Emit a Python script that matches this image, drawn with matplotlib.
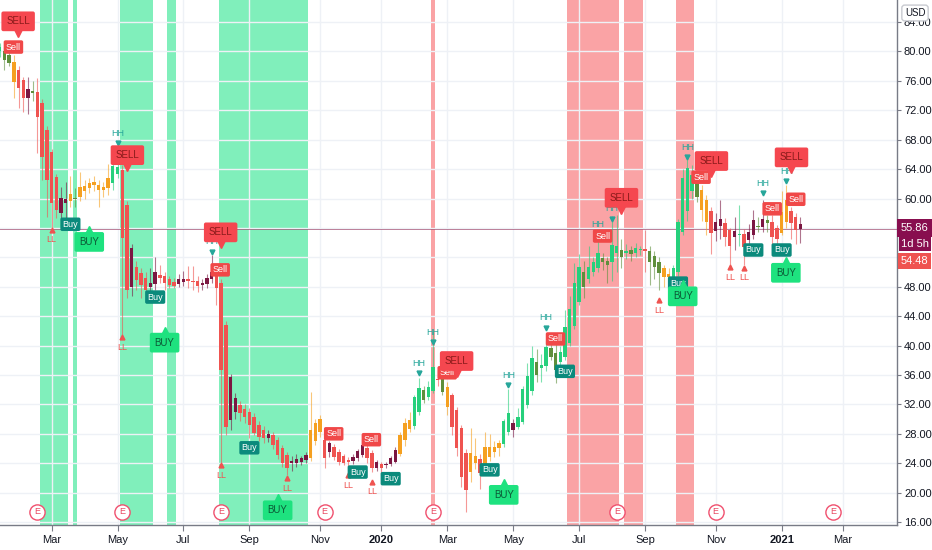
import numpy as np
import matplotlib
matplotlib.use('Agg')
import matplotlib.pyplot as plt
from matplotlib import transforms

# 3-day candles (price in USD)
opens = [80.0, 80.0, 79.5, 78.6, 77.5, 76.1, 73.7, 74.6, 74.5, 73.0,
         69.3, 66.3, 62.9, 58.0, 59.4, 59.6, 60.0, 60.2, 61.0, 61.5,
         62.2, 61.8, 61.2, 61.4, 62.1, 63.4, 63.9, 59.1, 48.0, 50.7,
         49.9, 49.2, 48.0, 48.4, 49.6, 49.5, 49.0, 48.6, 48.4, 48.6,
         48.9, 48.8, 48.8, 48.2, 48.4, 49.0, 49.9, 48.5, 42.8, 29.9,
         31.0, 31.9, 31.4, 31.0, 30.3, 29.2, 28.5, 27.4, 27.8, 27.2,
         26.1, 25.1, 24.0, 24.0, 24.2, 24.4, 24.7, 27.0, 28.2, 27.2,
         25.5, 26.2, 25.5, 25.0, 24.4, 24.3, 24.7, 25.1, 26.1, 25.4,
         23.3, 23.9, 23.7, 23.9, 24.2, 25.3, 27.2, 28.6, 29.0, 31.0,
         34.0, 33.0, 33.8, 35.4, 35.5, 34.4, 33.3, 31.2, 28.8, 25.4,
         22.8, 25.0, 24.6, 23.6, 24.9, 25.5, 26.1, 26.6, 28.2, 29.5,
         28.9, 29.6, 31.9, 33.8, 37.8, 37.0, 37.2, 39.7, 39.0, 37.8,
         38.5, 40.4, 42.6, 45.9, 50.0, 49.0, 50.0, 50.6, 51.9, 51.5,
         51.4, 52.6, 53.0, 52.6, 53.0, 52.6, 53.0, 53.1, 52.9, 52.2,
         51.4, 50.6, 49.8, 49.3, 50.0, 55.4, 58.3, 63.2, 62.5, 61.2,
         59.8, 58.3, 55.6, 56.3, 56.7, 55.7, 54.8, 55.0, 55.2, 54.4,
         55.0, 56.3, 56.1, 57.1, 56.8, 56.0, 55.3, 56.8, 58.3, 57.5,
         56.5]
highs = [81.2, 80.6, 80.0, 79.5, 78.0, 76.5, 76.5, 76.0, 76.4, 73.5,
         69.8, 66.8, 63.3, 61.6, 62.2, 63.0, 61.5, 63.6, 62.5, 62.8,
         63.0, 62.5, 62.3, 64.7, 65.0, 67.5, 64.5, 59.6, 53.8, 51.5,
         50.5, 50.0, 50.5, 52.0, 51.0, 50.0, 49.5, 49.2, 49.8, 50.2,
         50.8, 50.8, 49.5, 49.0, 49.8, 52.3, 50.3, 49.0, 43.3, 36.2,
         33.5, 32.5, 32.0, 31.5, 30.8, 29.8, 29.0, 28.5, 28.3, 27.6,
         26.5, 25.5, 25.0, 25.2, 25.0, 25.5, 33.7, 30.0, 30.6, 27.8,
         27.0, 26.6, 26.0, 25.3, 24.8, 25.2, 26.0, 27.3, 26.8, 25.8,
         24.5, 24.2, 24.2, 25.0, 26.2, 28.3, 30.2, 31.0, 33.3, 35.6,
         34.5, 35.2, 42.1, 36.6, 36.0, 35.0, 33.6, 31.6, 29.2, 26.0,
         28.8, 27.5, 25.2, 28.2, 28.0, 27.0, 27.2, 30.0, 34.1, 30.0,
         31.5, 34.5, 37.6, 40.0, 39.5, 38.8, 40.8, 40.5, 40.8, 40.0,
         44.8, 46.7, 51.2, 52.5, 51.5, 53.5, 52.0, 54.2, 52.6, 52.0,
         57.6, 57.8, 54.5, 53.8, 53.6, 54.0, 53.6, 55.7, 53.5, 52.8,
         52.0, 51.0, 50.5, 51.0, 57.2, 64.0, 65.8, 64.5, 63.0, 61.8,
         60.5, 58.8, 58.0, 59.8, 57.3, 56.0, 57.5, 59.1, 55.8, 56.5,
         58.5, 57.5, 59.8, 57.8, 57.8, 56.4, 61.0, 61.8, 58.8, 58.0,
         57.5]
lows = [79.3, 77.5, 78.0, 73.7, 72.3, 71.8, 71.5, 73.3, 66.2, 62.5,
        57.5, 56.0, 57.3, 57.3, 57.4, 58.8, 58.8, 59.6, 60.0, 60.8,
        61.0, 58.8, 60.2, 60.5, 61.2, 62.8, 41.4, 46.5, 46.8, 47.5,
        46.5, 46.8, 47.2, 47.5, 48.5, 47.5, 47.8, 47.8, 48.0, 48.1,
        47.8, 47.6, 47.3, 47.5, 47.8, 48.5, 45.5, 23.8, 27.8, 28.5,
        30.0, 29.8, 29.5, 27.5, 27.8, 27.0, 26.8, 26.9, 26.0, 24.6,
        23.5, 22.4, 23.0, 23.5, 23.8, 24.0, 24.3, 26.5, 27.6, 23.3,
        24.8, 24.5, 23.8, 23.7, 23.3, 23.9, 24.3, 24.8, 24.0, 22.8,
        22.9, 22.4, 23.3, 23.6, 24.0, 25.0, 26.3, 28.2, 28.7, 30.5,
        32.2, 32.6, 33.5, 34.5, 33.3, 30.5, 27.8, 25.0, 20.8, 17.4,
        21.5, 23.2, 20.5, 22.8, 24.3, 24.8, 25.0, 26.2, 27.8, 27.6,
        28.6, 29.3, 31.5, 33.3, 35.0, 35.0, 36.5, 38.0, 34.9, 37.3,
        38.0, 40.0, 42.2, 45.5, 46.5, 48.5, 49.5, 50.0, 50.3, 48.5,
        48.8, 50.0, 50.5, 51.8, 51.5, 52.0, 52.3, 50.0, 48.2, 49.0,
        47.5, 48.0, 48.5, 48.8, 49.5, 55.0, 57.0, 60.0, 59.5, 57.0,
        55.0, 52.5, 54.2, 54.5, 53.5, 51.0, 53.0, 53.5, 51.0, 53.5,
        54.5, 55.5, 55.5, 55.5, 53.5, 53.5, 55.0, 56.0, 54.5, 53.8,
        54.0]
closes = [80.6, 78.8, 78.4, 75.8, 75.0, 73.7, 74.9, 74.4, 71.1, 65.6,
          62.5, 59.4, 58.4, 60.1, 59.9, 60.6, 59.9, 61.6, 61.7, 62.1,
          61.8, 61.2, 61.6, 62.8, 64.4, 64.3, 54.6, 47.6, 53.3, 48.9,
          48.2, 47.6, 48.5, 50.0, 49.2, 48.5, 48.2, 48.1, 49.0, 49.0,
          48.85, 48.7, 48.1, 48.5, 49.2, 50.0, 47.8, 36.7, 28.9, 35.7,
          32.9, 30.8, 30.3, 29.2, 28.1, 27.6, 27.4, 28.0, 26.5, 25.1,
          24.0, 23.3, 24.3, 24.6, 24.7, 25.1, 28.5, 29.5, 30.0, 24.7,
          26.8, 24.8, 24.2, 24.0, 24.2, 24.8, 25.7, 26.5, 24.7, 23.3,
          24.2, 23.3, 23.8, 24.7, 25.8, 27.8, 29.5, 29.9, 33.0, 34.2,
          32.6, 34.4, 37.1, 35.3, 33.7, 31.6, 28.9, 26.1, 22.1, 20.4,
          25.4, 24.0, 22.7, 26.2, 26.2, 26.2, 26.8, 29.7, 30.8, 28.5,
          30.3, 34.1, 35.9, 38.3, 36.0, 37.4, 39.8, 38.4, 36.7, 39.1,
          42.5, 45.0, 48.5, 50.7, 48.0, 50.7, 51.4, 52.6, 51.4, 51.0,
          53.7, 53.6, 52.0, 52.8, 52.5, 53.3, 53.05, 52.9, 51.4, 50.7,
          49.9, 49.3, 49.3, 50.5, 56.8, 62.8, 64.1, 61.0, 60.2, 58.4,
          56.8, 55.3, 56.8, 57.2, 54.8, 53.5, 55.6, 55.1, 53.4, 55.4,
          57.1, 56.1, 57.2, 56.7, 54.8, 54.5, 58.2, 59.8, 56.7, 55.7,
          55.86]
# indicator colour state per bar: g green, d olive, o orange, r red, m maroon
states = ("gddorrmdrr" "rrrmmodooo" "ooooggrrmr" "rrmmrrrrmm" "rrrmmmrrrm"
          "mrrrrrrmrr" "rrmmmmooor" "mrrrrmmmrr" "mrmmmooogg" "dggrdorrrr"
          "oorooooggm" "ggggdggddg" "ggggdgggdd" "ggdgdggrdd" "doogggggdo"
          "ormmrrmgrm" "mdmdrroorrm")

green_bands = [(9, 14), (16, 16), (26, 32), (36, 37), (47, 65)]
red_bands = [(92, 92), (121, 131), (133, 136), (144, 147)]
earnings_bars = [8, 26, 47, 69, 92, 131, 152, 177]

month_bars = [11, 25, 39, 53, 68, 81, 95, 109, 123, 137, 152, 166, 179]
month_labels = ['Mar', 'May', 'Jul', 'Sep', 'Nov', '2020', 'Mar', 'May',
                'Jul', 'Sep', 'Nov', '2021', 'Mar']

# signal labels: (bar, price)
big_sell = [(3.9, 84.1), (27.1, 65.9), (46.9, 55.4), (97.0, 37.9),
            (132.0, 60.1), (151.1, 65.1), (168.1, 65.6)]
big_buy = [(19.0, 54.1), (35.0, 40.4), (59.0, 17.6), (107.0, 19.7),
           (145.0, 46.7), (166.9, 49.9)]
small_sell = [(2.9, 80.6), (46.8, 50.3), (70.9, 28.0), (78.9, 27.2),
              (95.0, 36.3), (118.0, 40.9), (128.0, 54.9), (148.9, 62.9),
              (164.0, 58.6), (169.0, 59.9)]
small_buy = [(15, 56.5), (33, 46.6), (53, 26.1), (76, 22.8), (83, 21.9),
             (104, 23.1), (120, 36.5), (144, 48.5), (160, 53.0), (166, 53.0)]
hh_marks = [(25, 68.9), (45, 54.1), (89, 37.6), (92, 41.8), (108, 36.0),
            (116, 43.8), (127, 56.5), (130, 58.6), (146, 67.0), (162, 62.1),
            (167, 63.7)]
ll_marks = [(11, 54.4), (26, 39.8), (47, 22.4), (61, 20.6), (74, 21.0),
            (79, 20.1), (140, 44.8), (155, 49.3), (158, 49.2)]

palette = {'g': '#26d07c', 'd': '#5e8f3c', 'o': '#f5a020', 'r': '#ef5350',
           'm': '#7b1742'}
FONT = ['Liberation Sans Narrow', 'Liberation Sans', 'DejaVu Sans']

fig = plt.figure(figsize=(9.32, 5.5), dpi=100)
ax = fig.add_axes([0, 25 / 550, 897 / 932, 525 / 550])
ax.set_xlim(0.05, 190.5)
ax.set_ylim(15.6, 87.0)

for a, b in green_bands:
    ax.axvspan(a - 0.5, b + 0.5, color='#80efbb', lw=0, zorder=0.4)
for a, b in red_bands:
    ax.axvspan(a - 0.5, b + 0.5, color='#faa3a5', lw=0, zorder=0.4)

ax.set_axisbelow(True)
ax.grid(color='#eef1f6', lw=1)

# candles
x = np.arange(len(closes))
o = np.array(opens)
c = np.array(closes)
bot = np.minimum(o, c)
hgt = np.maximum(np.abs(c - o), 0.15)
cols = [palette[k] for k in states]
ax.vlines(x, lows, highs, colors=cols, lw=0.8, alpha=0.6, zorder=2)
ax.bar(x, hgt, bottom=bot, width=0.72, color=cols, lw=0, zorder=3)

ax.axhline(closes[-1], color='#a04a6e', lw=0.7, alpha=0.7, zorder=1.5)


def shifted(dy):
    return transforms.offset_copy(ax.transData, fig=fig, x=0, y=dy, units='dots')


for b, p in hh_marks:
    ax.text(b, p, 'HH', ha='center', va='center', fontsize=6.5, color='#26a69a',
            family=FONT, zorder=4)
    ax.plot([b], [p], marker='v', ms=3.5, color='#26a69a', lw=0,
            transform=shifted(-10), zorder=4)
for b, p in ll_marks:
    ax.text(b, p, 'LL', ha='center', va='center', fontsize=6.5, color='#ef5350',
            family=FONT, zorder=4)
    ax.plot([b], [p], marker='^', ms=3.5, color='#ef5350', lw=0,
            transform=shifted(10), zorder=4)

for b, p in small_sell:
    ax.text(b, p, 'Sell', ha='center', va='center', fontsize=6.5, color='white',
            family=FONT, zorder=5,
            bbox=dict(boxstyle='round,pad=0.25,rounding_size=0.2', fc='#f04848', ec='none'))
for b, p in small_buy:
    ax.text(b, p, 'Buy', ha='center', va='center', fontsize=6.5, color='white',
            family=FONT, zorder=5,
            bbox=dict(boxstyle='round,pad=0.25,rounding_size=0.2', fc='#0b8a7c', ec='none'))

for b, p in big_sell:
    ax.text(b, p, 'SELL', ha='center', va='center', fontsize=7, color='#8a1b1b',
            family=FONT, zorder=6,
            bbox=dict(boxstyle='round,pad=0.5,rounding_size=0.2', fc='#f5474f', ec='none'))
    ax.plot([b], [p], marker='v', ms=7, color='#f5474f', lw=0,
            transform=shifted(-11), zorder=6)
for b, p in big_buy:
    ax.text(b, p, 'BUY', ha='center', va='center', fontsize=7, color='#0b5a36',
            family=FONT, zorder=6,
            bbox=dict(boxstyle='round,pad=0.5,rounding_size=0.2', fc='#1ee27f', ec='none'))
    ax.plot([b], [p], marker='^', ms=7, color='#1ee27f', lw=0,
            transform=shifted(11), zorder=6)

# earnings markers along the bottom
tr = transforms.blended_transform_factory(ax.transData, ax.transAxes)
ax.scatter(earnings_bars, [0.025] * len(earnings_bars), s=120, facecolor='white',
           edgecolor='#f0506e', lw=1, transform=tr, zorder=9, clip_on=False)
for b in earnings_bars:
    ax.text(b, 0.025, 'E', transform=tr, ha='center', va='center', fontsize=6.5,
            color='#e8455f', family=FONT, zorder=10)

# axes
ax.yaxis.tick_right()
yt = np.arange(16, 85, 4)
ax.set_yticks(yt)
# 52 and 56 sit under the price tags
ax.set_yticklabels(['' if v in (52, 56) else f'{v:.2f}' for v in yt],
                   family=FONT)
ax.tick_params(axis='y', length=3, color='#787b86', labelsize=8,
               labelcolor='#131722', pad=2)
ax.set_xticks(month_bars)
ax.set_xticklabels(month_labels, family=FONT)
ax.tick_params(axis='x', length=4, color='#787b86', labelsize=8,
               labelcolor='#131722', pad=3)
for lab in ax.get_xticklabels():
    if lab.get_text() in ('2020', '2021'):
        lab.set_fontweight('bold')
for s in ('top', 'left'):
    ax.spines[s].set_visible(False)
for s in ('right', 'bottom'):
    ax.spines[s].set_color('#787b86')
    ax.spines[s].set_linewidth(1)

# price tags on the right
fig.text(914.5 / 932, 1 - 228 / 550, '55.86', ha='center', va='center', fontsize=8,
         family=FONT, color='white',
         bbox=dict(boxstyle='square,pad=0.35', fc='#880e4f', ec='none'))
fig.text(915 / 932, 1 - 244 / 550, '1d 5h', ha='center', va='center', fontsize=8,
         family=FONT, color='white',
         bbox=dict(boxstyle='square,pad=0.2', fc='#880e4f', ec='none'))
fig.text(914.5 / 932, 1 - 261 / 550, '54.48', ha='center', va='center', fontsize=8,
         family=FONT, color='white',
         bbox=dict(boxstyle='square,pad=0.25', fc='#ef5350', ec='none'))
fig.text(915 / 932, 1 - 13 / 550, 'USD', ha='center', va='center', fontsize=7,
         family=FONT, color='#131722',
         bbox=dict(boxstyle='round,pad=0.3', fc='white', ec='#c8cad0'))

fig.savefig('out.png', dpi=100)
